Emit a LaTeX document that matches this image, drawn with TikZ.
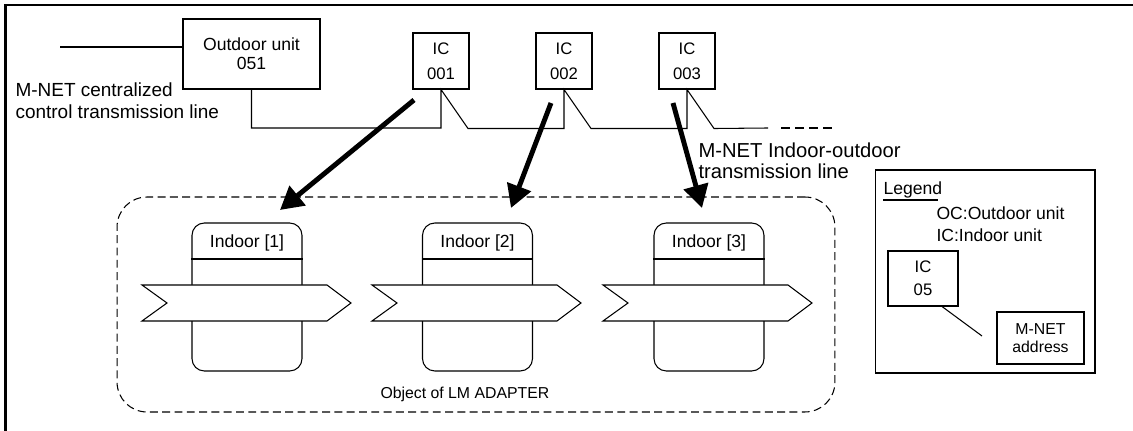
\documentclass[tikz,border=0pt]{standalone}
\usepackage{fontspec}
\setmainfont{Liberation Sans}
\usetikzlibrary{arrows.meta}

\tikzset{
	unitbox/.style={draw, align=center, inner sep=0pt},
	icbox/.style={unitbox, minimum width=1.12cm, minimum height=1.12cm, font=\fontsize{9.5}{14}\selectfont},
	indoorbox/.style={draw, rounded corners=7pt, minimum width=2.2cm, minimum height=2.96cm},
	bigarrow/.style={line width=2.8pt, -{Triangle[length=13pt,width=14pt]}},
	band/.style={draw, fill=white},
	smalltext/.style={inner sep=0pt, font=\fontsize{10}{12}\selectfont},
	plaintext/.style={inner sep=0pt, align=left, font=\fontsize{10}{12.5}\selectfont},
}

\begin{document}
\begin{tikzpicture}[x=0.02cm, y=-0.02cm, line width=0.6pt]
	\useasboundingbox (0,0) rectangle (1133,431);
	% frame
	\draw[line width=1.2pt] (5.5,431) -- (5.5,5) -- (1133,5);

	% units
	\node[unitbox, minimum width=2.74cm, minimum height=1.4cm, font=\fontsize{10}{11}\selectfont] (od) at (251.5,54) {Outdoor unit\\051};
	\node[icbox] (ic1) at (441,61) {IC\\001};
	\node[icbox] (ic2) at (564,61) {IC\\002};
	\node[icbox] (ic3) at (687,61) {IC\\003};

	% labels
	\node[plaintext, anchor=north west, font=\fontsize{10.8}{12.5}\selectfont] (cctl) at (15,82) {M-NET centralized\\control transmission line};
	\node[plaintext, anchor=north west, font=\fontsize{11.5}{12}\selectfont] (iotl) at (698,142) {M-NET Indoor-outdoor\\transmission line};

	%lines
	\coordinate (cl) at (60,47);
	\coordinate (bus) at (0,128);
	\coordinate (busend) at (768,128);
	\coordinate (dashs) at (781,128);
	\coordinate (dashe) at (835,128);
	\draw (cl) -- (cl -| od.west);
	\draw (od.south) |- (ic1.south |- bus) -- (ic1.south) -- ++(27,39)
		-| (ic2.south) -- ++(27,39) -| (ic3.south) -- ++(27,39) -- (busend);
	\draw[dash pattern=on 5pt off 3pt] (dashs) -- (dashe);

	% object of LM ADAPTER
	\node[draw, dash pattern=on 4.5pt off 2.5pt, rounded corners=17pt, minimum width=14.36cm, minimum height=4.3cm] (lmobj) at (476,304.5) {};
	\node[anchor=west, inner sep=0pt, font=\fontsize{9}{11}\selectfont] (lmtxt) at (380,394) {Object of LM ADAPTER};

	\foreach \i/\cx in {1/247,2/477.5,3/709} {
		\node[indoorbox] (in\i) at (\cx,297) {};
		\node[smalltext] (inl\i) at (\cx,243) {Indoor [\i]};
		\draw (in\i.west |- 0,259) -- (in\i.east |- 0,259);
	}
	\foreach \x in {142,372,603}
		\draw[band] (\x,285) -- ++(185,0) -- ++(24,18) -- ++(-24,18) -- ++(-185,0) -- ++(25,-18) -- cycle;

	% arrows
	\coordinate (a1) at (414,100);
	\coordinate (a2) at (551,103);
	\coordinate (a3) at (673,103);
	\coordinate (t1) at (280,210);
	\coordinate (t2) at (511,208);
	\coordinate (t3) at (702,208);
	\draw[bigarrow] (a1) -- (t1);
	\draw[bigarrow] (a2) -- (t2);
	\draw[bigarrow] (a3) -- (t3);

	% legend
	\node[draw, minimum width=4.4cm, minimum height=4.06cm] (legend) at (985,271.5) {};
	\node[smalltext, anchor=base west, inner sep=0pt] (legt) at (883,195) {Legend};
	\draw[line width=1.2pt] (883,200) -- (938,200);
	\node[plaintext, anchor=north west] (legl) at (936,206) {OC:Outdoor unit\\IC:Indoor unit};
	\node[unitbox, minimum width=1.4cm, minimum height=1.1cm, font=\fontsize{9.5}{13}\selectfont] (legic) at (923,278.5) {IC\\05};
	\node[unitbox, minimum width=1.74cm, minimum height=1.04cm, font=\fontsize{9}{10}\selectfont] (legad) at (1040.5,338) {M-NET\\address};
	\coordinate (legc) at (982,336);
	\draw (legic.south -| 942,0) -- (legc);
\end{tikzpicture}
\end{document}
